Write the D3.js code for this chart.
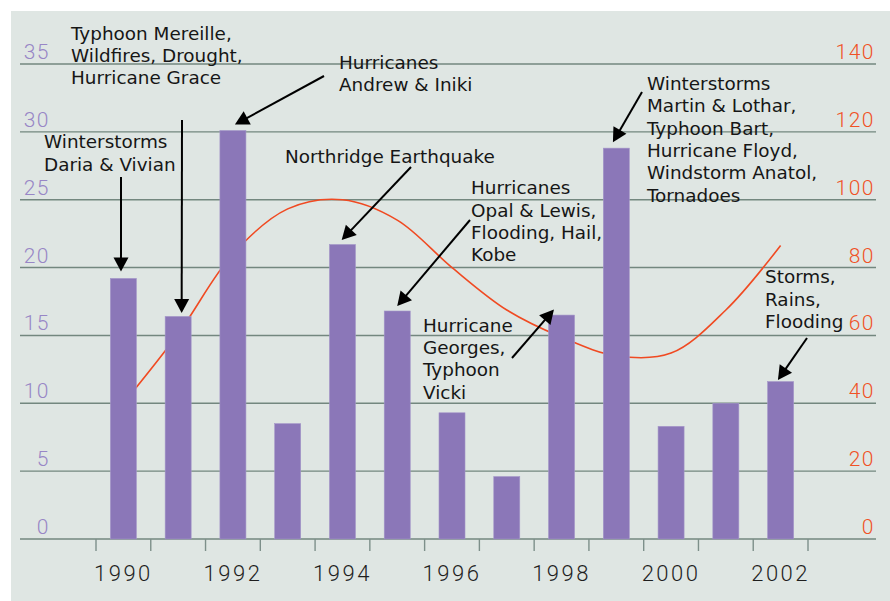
<!DOCTYPE html>
<html>
<head>
<meta charset="utf-8">
<script src="https://cdn.jsdelivr.net/npm/d3@7"></script>
<style>
  html, body { margin: 0; padding: 0; background: #ffffff; }
  svg { display: block; }
</style>
</head>
<body>
<svg id="chart" width="890" height="601"></svg>
<script>
// ---- data ----
const years = [1990, 1991, 1992, 1993, 1994, 1995, 1996, 1997, 1998, 1999, 2000, 2001, 2002];
const eventCounts = [19.2, 16.4, 30.1, 8.5, 21.7, 16.8, 9.3, 4.6, 16.5, 28.8, 8.3, 10.0, 11.6];
const trendValues = [40, 60.5, 84, 97.3, 100, 94, 80, 67.5, 59.5, 54, 54.8, 67.5, 86.5];
const leftTicks = [0, 5, 10, 15, 20, 25, 30, 35];
const rightTicks = [0, 20, 40, 60, 80, 100, 120, 140];
const yearLabels = [1990, 1992, 1994, 1996, 1998, 2000, 2002];

const annotationTexts = [
  ["Winterstorms", "Daria & Vivian"],
  ["Typhoon Mereille,", "Wildfires, Drought,", "Hurricane Grace"],
  ["Hurricanes", "Andrew & Iniki"],
  ["Northridge Earthquake"],
  ["Hurricanes", "Opal & Lewis,", "Flooding, Hail,", "Kobe"],
  ["Hurricane", "Georges,", "Typhoon", "Vicki"],
  ["Winterstorms", "Martin & Lothar,", "Typhoon Bart,", "Hurricane Floyd,", "Windstorm Anatol,", "Tornadoes"],
  ["Storms,", "Rains,", "Flooding"]
];
const annotationYears = [1990, 1991, 1992, 1994, 1995, 1998, 1999, 2002];

// ---- layout (pixels) ----
const layout = [
  { tx: 44,  ty: 148.3, tail: [121, 177], dx: -2.4, gap: 7 },
  { tx: 71,  ty: 39.5,  tail: [182, 120], dx: 3.5,  gap: 3.5 },
  { tx: 339, ty: 69,    tail: [324, 76],  dx: 2,    gap: 6 },
  { tx: 285, ty: 162.7, tail: [411, 167], dx: -0.8, gap: 4.5 },
  { tx: 471, ty: 194.3, tail: [470, 220], dx: 0,    gap: 5 },
  { tx: 423, ty: 331.7, tail: [512, 358], dx: -7.6, gap: 5.5 },
  { tx: 647, ty: 90,    tail: [642, 92],  dx: -3.4, gap: 6 },
  { tx: 765, ty: 283.3, tail: [807, 338], dx: -2.7, gap: 1.5 }
];

const W = 890, H = 601;
const plotLeft = 96, plotRight = 808, yBottom = 539, yTop = 64;
const gridLeft = 20, gridRight = 876;

const svg = d3.select("#chart");

svg.append("rect").attr("x", 11).attr("y", 11).attr("width", W - 11).attr("height", H - 11)
  .attr("fill", "#dfe6e3");

const x = d3.scaleBand().domain(years).range([plotLeft, plotRight]).padding(0);
const yL = d3.scaleLinear().domain([0, 35]).range([yBottom, yTop]);
const yR = d3.scaleLinear().domain([0, 140]).range([yBottom, yTop]);
const bw = x.bandwidth();
const barW = bw * 0.475;
const cx = d => x(d) + bw / 2;

// gridlines
svg.append("g").selectAll("line").data(leftTicks).join("line")
  .attr("x1", gridLeft).attr("x2", gridRight)
  .attr("y1", d => yL(d)).attr("y2", d => yL(d))
  .attr("stroke", "#73877f").attr("stroke-width", 1.4);

// left axis labels
const gLeft = svg.append("g").attr("transform", "translate(50,0)")
  .call(d3.axisLeft(yL).tickValues(leftTicks).tickSize(0).tickPadding(0));
gLeft.select(".domain").remove();
gLeft.selectAll("text")
  .attr("dy", null).attr("y", -5.5)
  .attr("font-family", "Roboto, 'Liberation Sans', sans-serif").attr("font-weight", 300)
  .attr("font-size", 21).attr("letter-spacing", 1.5)
  .attr("fill", "#9886c6").attr("text-anchor", "end");

// right axis labels
const gRight = svg.append("g").attr("transform", "translate(875,0)")
  .call(d3.axisLeft(yR).tickValues(rightTicks).tickSize(0).tickPadding(0));
gRight.select(".domain").remove();
gRight.selectAll("text")
  .attr("dy", null).attr("y", -5.5)
  .attr("font-family", "Roboto, 'Liberation Sans', sans-serif").attr("font-weight", 300)
  .attr("font-size", 21).attr("letter-spacing", 1.5)
  .attr("fill", "#f05226").attr("text-anchor", "end");

// x ticks at band boundaries
const boundaries = years.map(d => x(d)).concat([x(years[years.length - 1]) + bw]);
svg.append("g").selectAll("line").data(boundaries).join("line")
  .attr("x1", d => d).attr("x2", d => d)
  .attr("y1", yBottom).attr("y2", yBottom + 12)
  .attr("stroke", "#7d8f8a").attr("stroke-width", 1.4);

// year labels
const gX = svg.append("g").attr("transform", `translate(0,${yBottom})`)
  .call(d3.axisBottom(x).tickValues(yearLabels).tickSize(0).tickPadding(0));
gX.select(".domain").remove();
gX.selectAll("text")
  .attr("dy", null).attr("y", 42)
  .attr("font-family", "Roboto, 'Liberation Sans', sans-serif").attr("font-weight", 300)
  .attr("font-size", 22).attr("letter-spacing", 2.5)
  .attr("fill", "#1e1e1e");

// trend line (drawn beneath bars)
const line = d3.line()
  .x((d, i) => cx(years[i]))
  .y(d => yR(d))
  .curve(d3.curveCatmullRom.alpha(0.5));
svg.append("path").datum(trendValues)
  .attr("d", line).attr("fill", "none")
  .attr("stroke", "#f04a22").attr("stroke-width", 1.6);

// bars
svg.append("g").selectAll("rect").data(eventCounts).join("rect")
  .attr("x", (d, i) => cx(years[i]) - barW / 2)
  .attr("width", barW)
  .attr("y", d => yL(d))
  .attr("height", d => yBottom - yL(d))
  .attr("fill", "#8b77b8")
  .attr("stroke", "#a496c9").attr("stroke-width", 0.6);

// annotations
const lineH = 22.3;
const gAnn = svg.append("g");
annotationTexts.forEach((lines, k) => {
  const L = layout[k];
  const t = gAnn.append("text")
    .attr("font-family", "'DejaVu Sans', Verdana, sans-serif")
    .attr("font-size", 18.4).attr("fill", "#161616");
  lines.forEach((s, j) => {
    t.append("tspan").attr("x", L.tx).attr("y", L.ty + j * lineH).text(s);
  });
  const yr = annotationYears[k];
  const v = eventCounts[years.indexOf(yr)];
  const tip = [cx(yr) + L.dx, yL(v) - L.gap];
  const tail = L.tail;
  const dxv = tip[0] - tail[0], dyv = tip[1] - tail[1];
  const len = Math.hypot(dxv, dyv);
  const ux = dxv / len, uy = dyv / len;
  const headL = 14, headW = 7.5;
  const base = [tip[0] - ux * headL, tip[1] - uy * headL];
  gAnn.append("line")
    .attr("x1", tail[0]).attr("y1", tail[1])
    .attr("x2", base[0] + ux * 1).attr("y2", base[1] + uy * 1)
    .attr("stroke", "#000").attr("stroke-width", 2);
  const p1 = [base[0] - uy * headW, base[1] + ux * headW];
  const p2 = [base[0] + uy * headW, base[1] - ux * headW];
  gAnn.append("path")
    .attr("d", `M${tip[0]},${tip[1]}L${p1[0]},${p1[1]}L${p2[0]},${p2[1]}Z`)
    .attr("fill", "#000");
});
</script>
</body>
</html>
